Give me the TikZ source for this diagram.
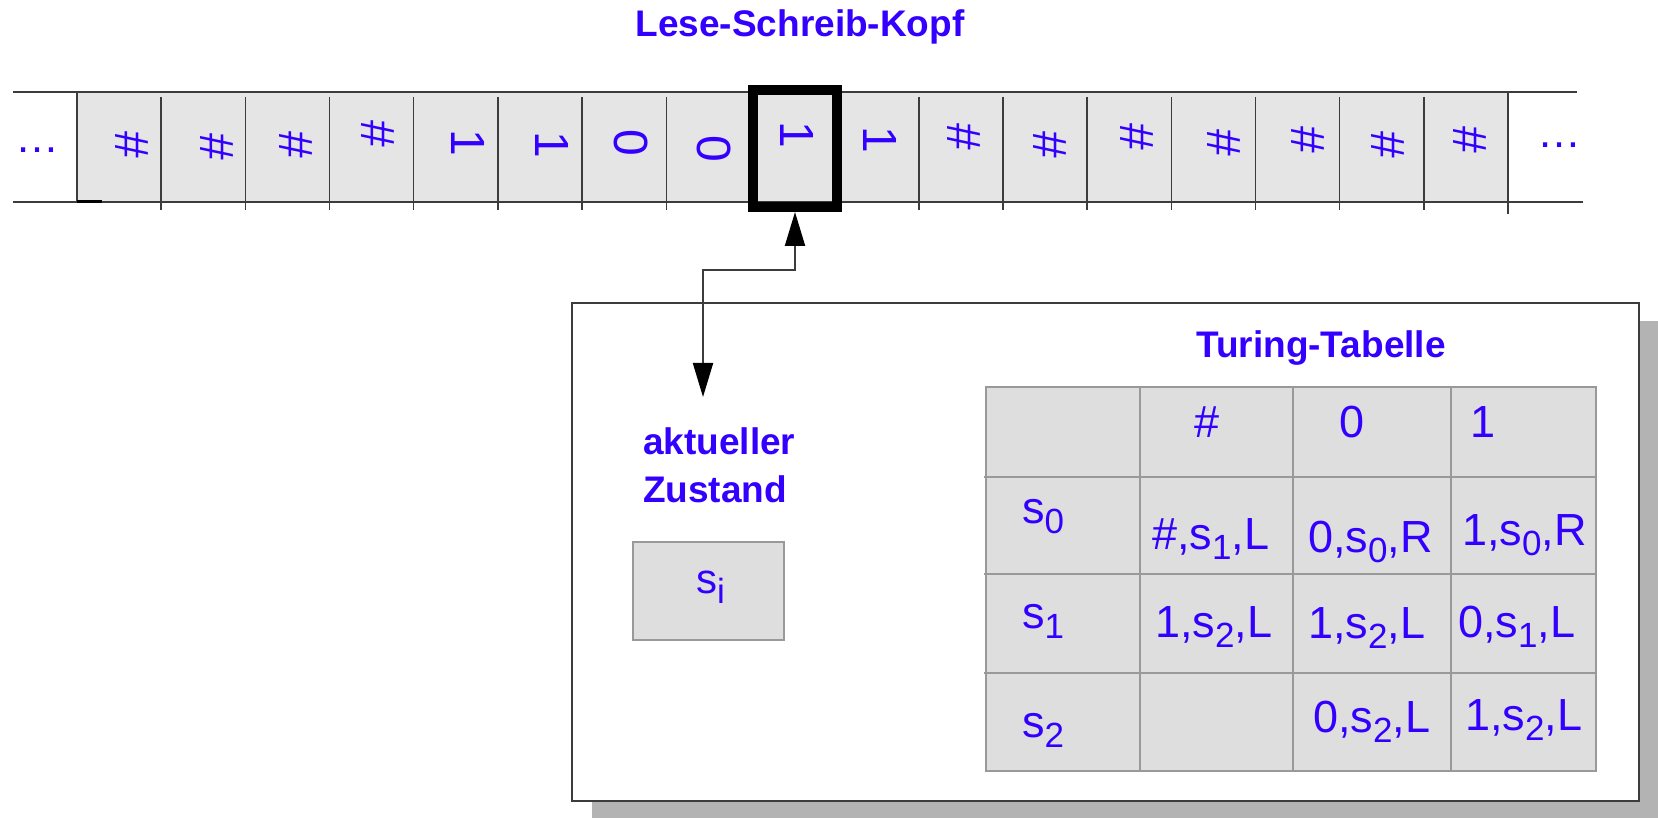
\documentclass[tikz,border=0pt]{standalone}
\usepackage{fontspec}
\setmainfont{Liberation Sans}
\usetikzlibrary{arrows.meta}
\definecolor{ink}{RGB}{51,0,255}
\definecolor{tapegray}{RGB}{229,229,229}
\definecolor{cellgray}{RGB}{222,222,222}
\definecolor{gridgray}{RGB}{153,153,153}
\definecolor{shadowgray}{RGB}{179,179,179}
\definecolor{rulegray}{RGB}{60,60,60}
% lowered index as used for the state names
\newcommand{\lo}[1]{\raisebox{-10pt}{\fontsize{35}{35}\selectfont #1}}
% tape symbols are printed turned a quarter turn clockwise
\newcommand{\turned}[1]{\rotatebox{-90}{#1}}

\begin{document}
\begin{tikzpicture}[x=1pt,y=-1pt,
  title/.style={font=\fontsize{37}{48}\selectfont\bfseries, text=ink, inner sep=0pt},
  entry/.style={font=\fontsize{45}{50}\selectfont, text=ink, inner sep=0pt, anchor=base west},
  colhead/.style={font=\fontsize{45}{50}\selectfont, text=ink, inner sep=0pt, anchor=base},
  tapesym/.style={font=\fontsize{48}{50}\selectfont, text=ink, inner sep=0pt},
  dots/.style={font=\fontsize{44}{50}\selectfont, text=ink, inner sep=0pt},
  tick/.style={draw=rulegray, line width=1.5pt},
  gridthick/.style={draw=gridgray, line width=2.6pt},
  gridthin/.style={draw=gridgray, line width=1.6pt},
  conn/.style={draw=rulegray, line width=2pt,
    {Triangle[length=34pt,width=20pt,color=black]}-{Triangle[length=34pt,width=20pt,color=black]}}
]
\useasboundingbox (0,0) rectangle (1658,818);

% ---------- tape ----------
\fill[tapegray] (77,92) rectangle (1508,202);
\draw[rulegray, line width=1.5pt] (13,92) -- (1577,92);
\draw[rulegray, line width=1.5pt] (13,202) -- (1583,202);
\draw[rulegray, line width=1.5pt] (77,92) -- (77,202);
\draw[black, line width=3pt] (77,202) -- (102,202);
\draw[rulegray, line width=1.5pt] (1508,92) -- (1508,214);
\foreach \i in {1,...,7,10,11,12,13,14,15,16}
  \draw[tick] ({77+84.18*\i},97) -- ++(0,113);

% read/write head
\node[draw=black, line width=10pt, minimum width=84pt, minimum height=117pt,
      inner sep=0pt] (head) at (795,148.5) {};

% tape contents
\foreach \x/\y/\s [count=\k] in {132/145/\#, 217/147/\#, 296/145/\#, 378/134/\#,
    468/143/1, 552/145/1, 631/143/0, 714/149/0, 797/135/1, 880/140/1,
    964/137/\#, 1050/145/\#, 1137/137/\#, 1224/143/\#, 1308/140/\#,
    1388/145/\#, 1470/140/\#}
  \node[tapesym] (t\k) at (\x,\y) {\turned{\s}};

\node[dots] (dotsL) at (37,150) {…};
\node[dots] (dotsR) at (1559,145) {…};

\node[title, anchor=base] (lsk) at (800,37) {Lese-Schreib-Kopf};

% ---------- control unit ----------
\fill[shadowgray] (592,321) rectangle (1658,818);
\draw[rulegray, line width=2.5pt, fill=white] (572,303) rectangle (1639,801);

\node[title, anchor=base] (tt) at (1321,358) {Turing-Tabelle};

\node[title, anchor=base west, align=left] (zlabel) at (643,502) {aktueller\\Zustand};

\node[draw=gridgray, line width=2.5pt, fill=cellgray, minimum width=151pt,
      minimum height=98pt, inner sep=0pt] (state) at (708.5,591) {};
\node[font=\fontsize{42}{50}\selectfont, text=ink, inner sep=0pt,
      anchor=base west] (stateval) at (696,593) {s\lo{i}};

% head <-> state connector
\coordinate (bendA) at (795,270);
\coordinate (bendB) at (703,270);
\coordinate (zin) at (703,397);
\draw[conn] (zin) -- (bendB) -- (bendA) -- (head.south);

% ---------- transition table ----------
\fill[cellgray] (986,387) rectangle (1596,771);
\draw[gridthick] (1140,387) -- (1140,771);
\draw[gridthin]  (1293,387) -- (1293,771);
\draw[gridthick] (1451,387) -- (1451,771);
\draw[gridthick] (984,477) -- (1596,477);
\draw[gridthick] (984,574) -- (1596,574);
\draw[gridthin]  (984,673) -- (1596,673);
\draw[gridthick] (986,387) rectangle (1596,771);

\node[colhead] (hHash) at (1207,437) {\#};
\node[colhead] (hZero) at (1352,437) {0};
\node[colhead] (hOne)  at (1483,437) {1};

\node[entry] (rS0) at (1022,523) {s\lo{0}};
\node[entry] (rS1) at (1022,628) {s\lo{1}};
\node[entry] (rS2) at (1022,737) {s\lo{2}};

\node[entry] (e00) at (1152,549) {\#,s\lo{1},L};
\node[entry] (e01) at (1308,552) {0,s\lo{0},R};
\node[entry] (e02) at (1462,545) {1,s\lo{0},R};

\node[entry] (e10) at (1155,637) {1,s\lo{2},L};
\node[entry] (e11) at (1308,638) {1,s\lo{2},L};
\node[entry] (e12) at (1458,637) {0,s\lo{1},L};

\node[entry] (e21) at (1313,732) {0,s\lo{2},L};
\node[entry] (e22) at (1465,730) {1,s\lo{2},L};
\end{tikzpicture}
\end{document}
